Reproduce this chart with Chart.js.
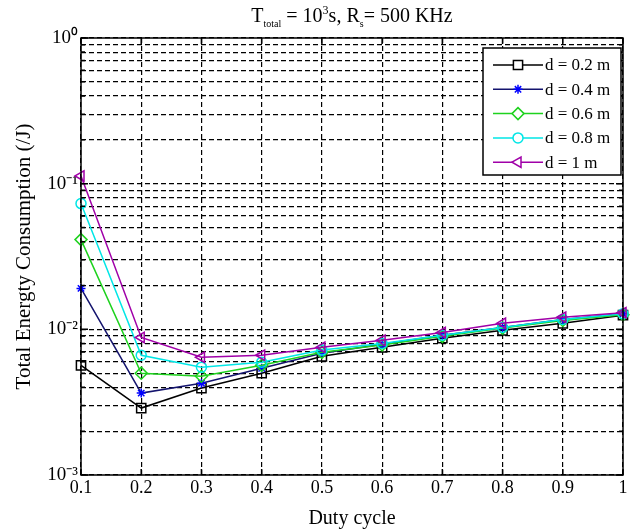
<!DOCTYPE html>
<html>
<head>
<meta charset="utf-8">
<script src="https://cdn.jsdelivr.net/npm/chart.js@4/dist/chart.umd.min.js"></script>
<style>
  body { margin: 0; background: #fff; }
  #wrap { position: relative; width: 642px; height: 531px; }
  #ttl { position: absolute; top: 3px; left: 0; width: 704px; text-align: center;
         font-family: 'Liberation Serif', serif; font-size: 20px; color: #000; }
  #ttl sub { font-size: 10px; }
  #ttl sup { font-size: 12px; }
</style>
</head>
<body>
<div id="wrap">
  <canvas id="chart" width="642" height="531"></canvas>
  <div id="ttl">T<sub>total</sub> = 10<sup>3</sup>s, R<sub>s</sub>= 500 KHz</div>
</div>
<script>
const dutyCycle = [0.1, 0.2, 0.3, 0.4, 0.5, 0.6, 0.7, 0.8, 0.9, 1.0];
const energyD02 = [0.00566, 0.00288, 0.00395, 0.0050, 0.00653, 0.00753, 0.0087, 0.00985, 0.0110, 0.0125];
const energyD04 = [0.0191, 0.00365, 0.00427, 0.0054, 0.00686, 0.0079, 0.0091, 0.0103, 0.0117, 0.0128];
const energyD06 = [0.0413, 0.0050, 0.00476, 0.00566, 0.00695, 0.0078, 0.00895, 0.0102, 0.0115, 0.0126];
const energyD08 = [0.073, 0.00664, 0.0055, 0.00594, 0.0072, 0.0080, 0.0091, 0.0103, 0.0117, 0.0128];
const energyD1 = [0.113, 0.0088, 0.00643, 0.00664, 0.00753, 0.0084, 0.0095, 0.0110, 0.0121, 0.0130];
const seriesLabels = ['d = 0.2 m', 'd = 0.4 m', 'd = 0.6 m', 'd = 0.8 m', 'd = 1 m'];
const yMajorLabels = { '-3': '10\u207B\u00B3', '-2': '10\u207B\u00B2', '-1': '10\u207B\u00B9', '0': '10\u2070' };

const serif = 'Liberation Serif';

function makeSet(label, data, line, mark, style, radius, rot, order) {
    return {
        label: label,
        data: data.map((v, i) => ({ x: dutyCycle[i], y: v })),
        fill: false,
        clip: false,
        borderColor: line,
        backgroundColor: line,
        borderWidth: 1.5,
        pointStyle: style,
        pointRadius: radius,
        pointRotation: rot,
        pointBorderColor: mark,
        pointBackgroundColor: 'rgba(0,0,0,0)',
        pointBorderWidth: 1.5,
        tension: 0,
        order: order
    };
}

// box, inner tick marks and legend drawn like the matlab figure
const framePlugin = {
    id: 'frame',
    afterDatasetsDraw(chart) {
        const ctx = chart.ctx;
        const a = chart.chartArea;
        const xs = chart.scales.x, ys = chart.scales.y;
        ctx.save();
        ctx.strokeStyle = '#000';
        ctx.lineWidth = 1.5;
        ctx.beginPath();
        xs.ticks.forEach(t => {
            const px = xs.getPixelForValue(t.value);
            ctx.moveTo(px, a.bottom); ctx.lineTo(px, a.bottom - 6);
            ctx.moveTo(px, a.top); ctx.lineTo(px, a.top + 6);
        });
        ys.ticks.forEach(t => {
            const py = ys.getPixelForValue(t.value);
            const len = t.label ? 7 : 4;
            ctx.moveTo(a.left, py); ctx.lineTo(a.left + len, py);
            ctx.moveTo(a.right, py); ctx.lineTo(a.right - len, py);
        });
        ctx.stroke();
        ctx.strokeRect(a.left, a.top, a.right - a.left, a.bottom - a.top);

        // legend
        const bx = a.right - 140, by = a.top + 10, bw = 138, bh = 127;
        ctx.fillStyle = '#fff';
        ctx.fillRect(bx, by, bw, bh);
        ctx.lineWidth = 1.5;
        ctx.strokeRect(bx, by, bw, bh);
        ctx.font = '17px "' + serif + '"';
        ctx.textBaseline = 'middle';
        chart.data.datasets.forEach((ds, i) => {
            const ry = by + 17 + i * 24.3;
            ctx.strokeStyle = ds.borderColor;
            ctx.lineWidth = 1.5;
            ctx.beginPath();
            ctx.moveTo(bx + 10, ry); ctx.lineTo(bx + 60, ry);
            ctx.stroke();
            ctx.strokeStyle = ds.pointBorderColor;
            ctx.fillStyle = '#fff';
            Chart.helpers.drawPoint(ctx, {
                pointStyle: ds.pointStyle, radius: ds.pointRadius,
                rotation: ds.pointRotation, borderWidth: 1.5
            }, bx + 35, ry);
            ctx.fillStyle = '#000';
            ctx.fillText(ds.label, bx + 62, ry + 1);
        });
        ctx.restore();
    }
};

const ctx = document.getElementById('chart').getContext('2d');
const myChart = new Chart(ctx, {
    type: 'line',
    data: {
        datasets: [
            makeSet(seriesLabels[0], energyD02, '#000000', '#000000', 'rect', 6.5, 0, 5),
            makeSet(seriesLabels[1], energyD04, '#14146e', '#0000ff', 'star', 4.5, 0, 4),
            makeSet(seriesLabels[2], energyD06, '#1ed21e', '#1ed21e', 'rectRot', 6, 0, 3),
            makeSet(seriesLabels[3], energyD08, '#00e6e6', '#00e6e6', 'circle', 5, 0, 2),
            makeSet(seriesLabels[4], energyD1, '#a000a8', '#a000a8', 'triangle', 6, -90, 1)
        ]
    },
    options: {
        responsive: false,
        animation: false,
        layout: { padding: { left: 4, right: 19, top: 38, bottom: 0 } },
        plugins: {
            legend: { display: false },
            tooltip: { enabled: false }
        },
        scales: {
            x: {
                type: 'linear',
                min: 0.1,
                max: 1,
                afterFit: s => { s.height = 56; },
                ticks: {
                    stepSize: 0.1,
                    color: '#000',
                    font: { family: serif, size: 18 },
                    padding: 2,
                    maxRotation: 0,
                    callback: v => String(Math.round(v * 10) / 10)
                },
                grid: { color: '#000', lineWidth: 1.2, drawTicks: false },
                border: { display: false, dash: [5, 3] },
                title: {
                    display: true,
                    text: 'Duty cycle',
                    color: '#000',
                    font: { family: serif, size: 20 },
                    padding: { top: 0, bottom: 0 }
                }
            },
            y: {
                type: 'logarithmic',
                min: 0.001,
                max: 1,
                afterFit: s => { s.width = 77; },
                afterBuildTicks: s => {
                    const t = [];
                    for (let e = -3; e < 0; e++) {
                        for (let m = 1; m < 10; m++) t.push({ value: m * Math.pow(10, e) });
                    }
                    t.push({ value: 1 });
                    s.ticks = t;
                },
                ticks: {
                    autoSkip: false,
                    color: '#000',
                    font: { family: serif, size: 19 },
                    padding: 3,
                    callback: v => {
                        const e = Math.log10(v);
                        const r = Math.round(e);
                        return Math.abs(e - r) < 1e-6 ? yMajorLabels[String(r)] : '';
                    }
                },
                grid: { color: '#000', lineWidth: 1.2, drawTicks: false },
                border: { display: false, dash: [5, 3] },
                title: {
                    display: true,
                    text: 'Total Energty Consumption (/J)',
                    color: '#000',
                    font: { family: serif, size: 21 },
                    padding: { top: 8, bottom: 2 }
                }
            }
        }
    },
    plugins: [framePlugin]
});
</script>
</body>
</html>
